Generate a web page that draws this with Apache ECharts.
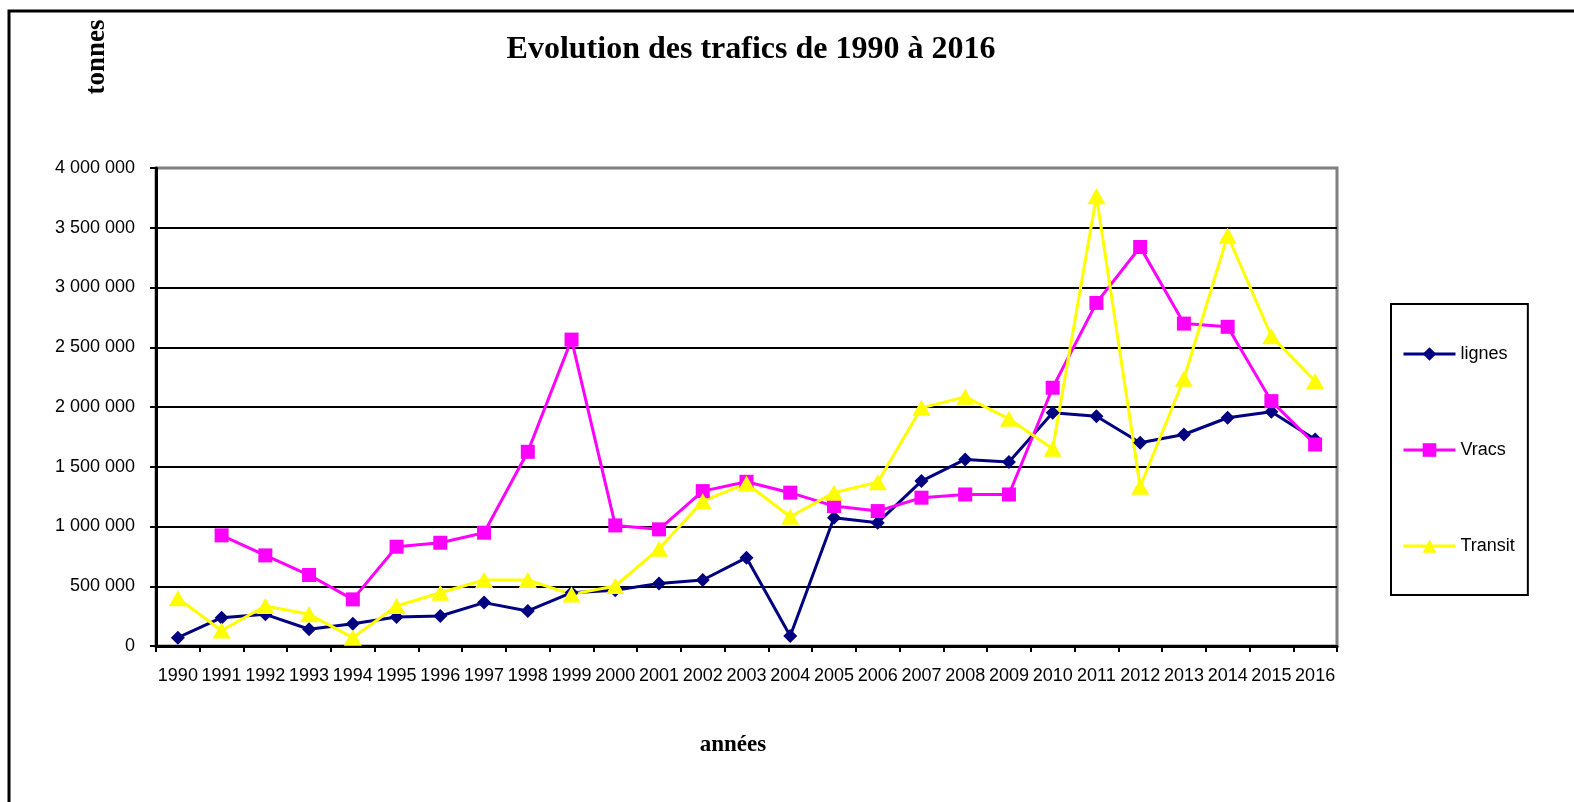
<!DOCTYPE html>
<html>
<head>
<meta charset="utf-8">
<script src="https://cdn.jsdelivr.net/npm/echarts@6/dist/echarts.min.js"></script>
<style>
  html, body { margin: 0; padding: 0; background: #fff; }
  #chart { width: 1574px; height: 802px; }
</style>
</head>
<body>
<div id="chart"></div>
<script>
// données (tonnes)
var annees = ['1990','1991','1992','1993','1994','1995','1996','1997','1998','1999','2000','2001','2002','2003',
              '2004','2005','2006','2007','2008','2009','2010','2011','2012','2013','2014','2015','2016'];
var lignes = [70000, 237000, 265000, 140000, 187000, 243000, 251000, 363000, 293000, 446000, 466000, 524000, 552000, 739000,
              84000, 1074000, 1032000, 1380000, 1561000, 1539000, 1951000, 1923000, 1701000, 1770000, 1910000, 1960000, 1728000];
var vracs = [null, 926000, 758000, 594000, 390000, 831000, 864000, 948000, 1625000, 2564000, 1009000, 976000, 1296000, 1374000,
             1283000, 1171000, 1129000, 1241000, 1268000, 1268000, 2161000, 2871000, 3339000, 2698000, 2671000, 2049000, 1686000];
var transit = [400000, 130000, 335000, 265000, 70000, 335000, 446000, 552000, 552000, 432000, 502000, 814000, 1212000, 1360000,
               1082000, 1283000, 1371000, 1993000, 2085000, 1901000, 1650000, 3763000, 1333000, 2236000, 3434000, 2592000, 2216000];

function milliers(v) {                                     // 4000000 -> "4 000 000"
    return String(v).replace(/\B(?=(\d{3})+(?!\d))/g, ' ');
}

var option = {
    backgroundColor: '#fff',
    animation: false,
    textStyle: { fontFamily: 'Liberation Sans, Arial, sans-serif' },
    grid: {
        left: 156, right: 237, top: 168, bottom: 156,
        show: true,
        borderColor: '#808080',
        borderWidth: 3,
        backgroundColor: '#fff'
    },
    graphic: [
        {   // cadre extérieur
            type: 'rect', z: -1,
            shape: { x: 9, y: 11, width: 1700, height: 900 },
            style: { fill: null, stroke: '#000', lineWidth: 3 }
        },
        {
            type: 'text', x: 751, y: 50,
            style: {
                text: 'Evolution des trafics de 1990 à 2016',
                font: 'bold 32px "Liberation Serif", "Times New Roman", serif',
                fill: '#000', textAlign: 'center', textVerticalAlign: 'middle'
            }
        },
        {
            type: 'text', x: 97, y: 57, rotation: Math.PI / 2,
            style: {
                text: 'tonnes',
                font: 'bold 27px "Liberation Serif", "Times New Roman", serif',
                fill: '#000', textAlign: 'center', textVerticalAlign: 'middle'
            }
        },
        {
            type: 'text', x: 733, y: 745,
            style: {
                text: 'années',
                font: 'bold 23px "Liberation Serif", "Times New Roman", serif',
                fill: '#000', textAlign: 'center', textVerticalAlign: 'middle'
            }
        }
    ],
    legend: {
        orient: 'vertical',
        left: 1391, top: 304,
        padding: [41, 13, 40, 11],
        itemGap: 78,
        itemWidth: 52, itemHeight: 17,
        borderColor: '#000', borderWidth: 2,
        backgroundColor: '#fff',
        lineStyle: { width: 3 },
        textStyle: { fontSize: 18, lineHeight: 18, color: '#000' },
        data: ['lignes', 'Vracs', 'Transit']
    },
    xAxis: {
        type: 'category',
        data: annees,
        boundaryGap: true,
        axisLine: { lineStyle: { color: '#000', width: 3 } },
        axisTick: { show: true, length: 6, lineStyle: { color: '#000', width: 2 } },
        axisLabel: { interval: 0, margin: 21, fontSize: 18, color: '#000' },
        splitLine: { show: false }
    },
    yAxis: {
        type: 'value',
        min: 0, max: 4000000, interval: 500000,
        axisLine: { show: true, lineStyle: { color: '#000', width: 3 } },
        axisTick: { show: true, length: 6, lineStyle: { color: '#000', width: 2 } },
        axisLabel: { margin: 21, fontSize: 18, color: '#000', formatter: milliers },
        splitLine: { show: true, showMinLine: false, showMaxLine: false, lineStyle: { color: '#000', width: 2 } }
    },
    series: [
        {
            name: 'lignes', type: 'line', data: lignes,
            symbol: 'diamond', symbolSize: 14,
            lineStyle: { color: '#000080', width: 3 },
            itemStyle: { color: '#000080' }
        },
        {
            name: 'Vracs', type: 'line', data: vracs,
            symbol: 'rect', symbolSize: 14,
            lineStyle: { color: '#ff00ff', width: 3 },
            itemStyle: { color: '#ff00ff' }
        },
        {
            name: 'Transit', type: 'line', data: transit,
            symbol: 'triangle', symbolSize: [18, 16],
            lineStyle: { color: '#ffff00', width: 3 },
            itemStyle: { color: '#ffff00' }
        }
    ]
};

var myChart = echarts.init(document.getElementById('chart'));
option && myChart.setOption(option);
</script>
</body>
</html>
